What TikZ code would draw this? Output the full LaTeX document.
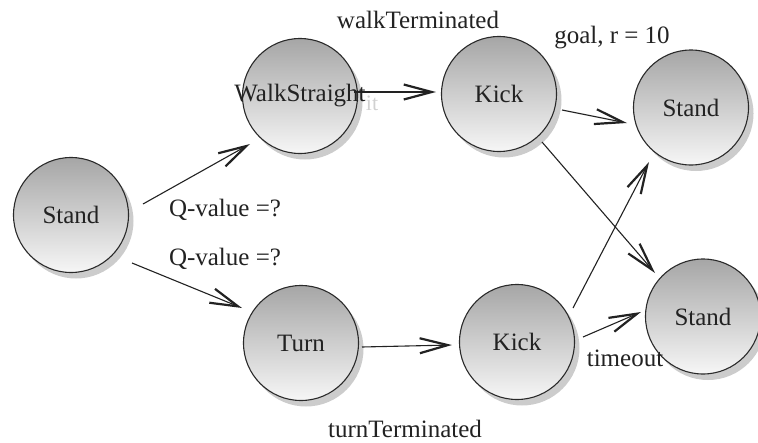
\documentclass[tikz,border=0pt]{standalone}
\usepackage{fontspec}
\setmainfont{Liberation Serif}
\usetikzlibrary{arrows.meta,calc,shadows}

\definecolor{ink}{HTML}{222222}
\definecolor{rim}{HTML}{2A2A2A}
\definecolor{shadetop}{HTML}{A6A6A6}
\definecolor{shadebot}{HTML}{F6F6F6}

\tikzset{
  state/.style={circle, draw=rim, line width=1.1pt, minimum size=115pt, inner sep=0pt,
    top color=shadetop, bottom color=shadebot,
    drop shadow={shadow xshift=5pt, shadow yshift=-6pt, fill=black!22, opacity=0.9}},
  lbl/.style={font=\rmfamily\fontsize{25}{30}\selectfont, text=ink, inner sep=0pt},
  ghost/.style={font=\rmfamily\fontsize{22}{26}\selectfont, text=black!18, inner sep=0pt},
  arr/.style={draw=ink, line width=1.1pt,
    -{Straight Barb[length=28pt, width=15pt, line width=2.2pt]}},
}

\begin{document}
\begin{tikzpicture}[x=1pt, y=-1pt]
  \useasboundingbox (0,0) rectangle (758,442);

  % states
  \node[state, label={[lbl]center:Stand}]        (s0) at (71,215)    {};
  \node[state, label={[lbl]center:WalkStraight}] (ws) at (300,96)    {};
  \node[state, label={[lbl]center:Kick}]         (k1) at (499,94)    {};
  \node[state, label={[lbl]center:Stand}]        (s1) at (691,107.5) {};
  \node[state, label={[lbl]center:Turn}]         (tu) at (301,343)   {};
  \node[state, label={[lbl]center:Kick}]         (k2) at (517,342)   {};
  \node[state, label={[lbl]center:Stand}]        (s2) at (703,316.5) {};

  \node[ghost] (gh) at (372,103) {it};

  % transitions
  \draw[arr] ($(s0)+(72,-11)$) -- ($(ws)+(-50,48)$);
  \draw[arr] ($(s0)+(61,48)$)  -- ($(tu)+(-59,-35)$);
  \draw[arr] ($(ws)+(54,-4)$)  -- ($(k1)+(-63,-2)$);
  \draw[arr] ($(k1)+(63,16)$)  -- ($(s1)+(-64,15.5)$);
  \draw[arr] ($(k1)+(43,48)$)  -- ($(s2)+(-48,-43.5)$);
  \draw[arr] ($(tu)+(61,4)$)   -- ($(k2)+(-65,3)$);
  \draw[arr] ($(k2)+(56,-34)$) -- ($(s1)+(-42,54.5)$);
  \draw[arr] ($(k2)+(66,-5)$)  -- ($(s2)+(-62,-4.5)$);

  % transition labels
  \node[lbl] (t1) at (418,20)  {walkTerminated};
  \node[lbl] (t2) at (612,38)  {goal, r = 10};
  \node[lbl] (t3) at (225,210) {Q-value =?};
  \node[lbl] (t4) at (225,259) {Q-value =?};
  \node[lbl] (t5) at (625,358) {timeout};
  \node[lbl] (t6) at (405,429) {turnTerminated};
\end{tikzpicture}
\end{document}
